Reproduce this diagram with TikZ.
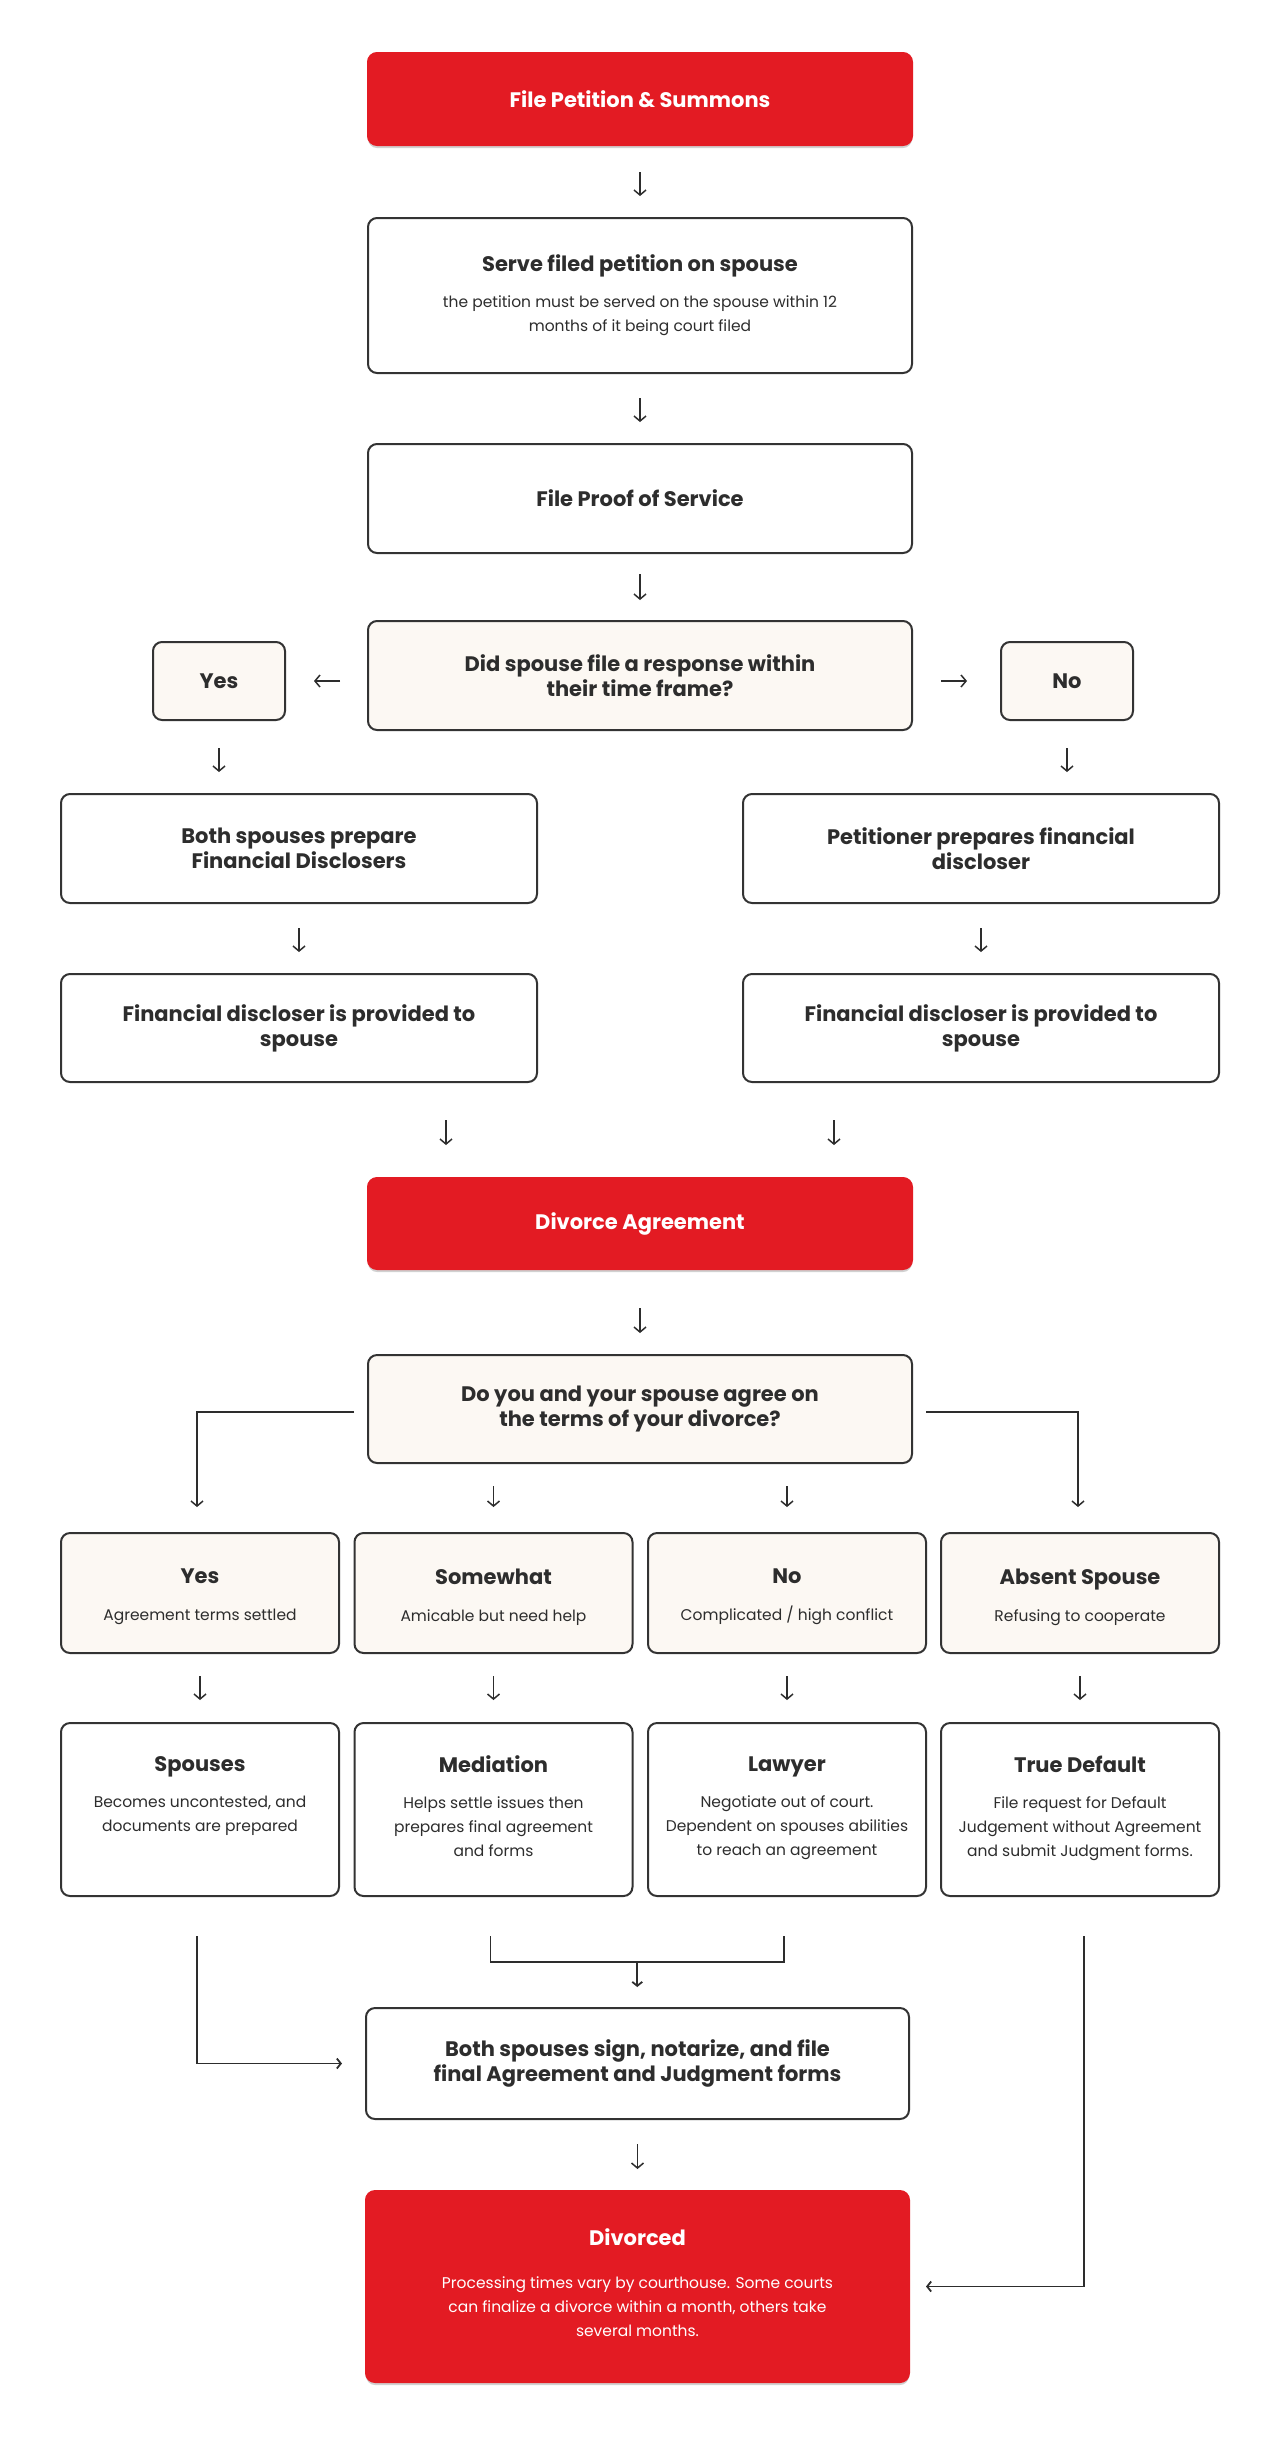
\documentclass[tikz,border=0pt]{standalone}
\usepackage{fontspec}
\setmainfont{Poppins}
\usetikzlibrary{arrows.meta,shadows,calc}
\definecolor{brandred}{HTML}{E31B23}
\definecolor{cream}{HTML}{FCF8F3}
\definecolor{ink}{HTML}{2D2D2D}
\definecolor{edge}{HTML}{333333}
\newcommand\ttl[1]{{\fontsize{21}{25}\selectfont\bfseries\spaceskip=0pt\xspaceskip=0pt #1\par}}
\newcommand\sbt[1]{{\fontsize{15.5}{24}\selectfont\mdseries\spaceskip=0pt\xspaceskip=0pt #1\strut\par}}
\newcommand\sbtn[1]{{\fontsize{15.5}{24}\selectfont\mdseries\spaceskip=0pt\xspaceskip=0pt #1\par}}
\tikzset{
  box/.style={draw=edge, line width=2pt, rounded corners=9pt, fill=white, text=ink,
    align=flush center, inner sep=0pt, font=\fontsize{21}{25}\selectfont\bfseries},
  qbox/.style={box, fill=cream},
  redbox/.style={box, draw=brandred, fill=brandred, text=white,
    drop shadow={shadow xshift=0pt, shadow yshift=-3pt, opacity=0.18, fill=black}},
  arr/.style={draw=ink, line width=1.5pt, -{Straight Barb[length=5pt,width=12pt]}},
  flow/.style={draw=ink, line width=1.8pt, -{Straight Barb[length=4pt,width=10pt]}},
  plain/.style={draw=ink, line width=1.8pt}
}
\begin{document}
\begin{tikzpicture}[x=1pt,y=-1pt]
\useasboundingbox (0,0) rectangle (1280,2439);
\fill[white] (0,0) rectangle (1280,2439);

% top chain
\node[redbox, minimum width=544pt, minimum height=92pt] (fps) at (640,99) {File Petition \& Summons};
\node[box, minimum width=544pt, minimum height=155pt, text width=504pt] (serve) at (640,295.5)
  {\ttl{Serve filed petition on spouse}\vspace{12pt}\sbtn{the petition must be served on the spouse within 12\\months of it being court filed}};
\node[box, minimum width=544pt, minimum height=109pt] (proof) at (640,498.5) {File Proof of Service};
\node[qbox, minimum width=544pt, minimum height=109pt] (dec1) at (640,675.5) {Did spouse file a response within\\their time frame?};
\node[qbox, minimum width=132pt, minimum height=78pt] (yes1) at (219,681) {Yes};
\node[qbox, minimum width=132pt, minimum height=78pt] (no1) at (1067,681) {No};
\node[box, minimum width=476pt, minimum height=109pt] (both) at (299,848.5) {Both spouses prepare\\Financial Disclosers};
\node[box, minimum width=476pt, minimum height=109pt] (pet) at (981,848.5) {Petitioner prepares financial\\discloser};
\node[box, minimum width=476pt, minimum height=108pt] (fd1) at (299,1028) {Financial discloser is provided to\\spouse};
\node[box, minimum width=476pt, minimum height=108pt] (fd2) at (981,1028) {Financial discloser is provided to\\spouse};
\node[redbox, minimum width=544pt, minimum height=91pt] (da) at (640,1223.5) {Divorce Agreement};
\node[qbox, minimum width=544pt, minimum height=108pt] (dec2) at (640,1409) {Do you and your spouse agree on\\the terms of your divorce?};

% options
\foreach \n/\x/\t/\s in {o1/200/Yes/{Agreement terms settled}, o2/493.5/Somewhat/{Amicable but need help},
    o3/787/No/{Complicated / high conflict}, o4/1080/Absent Spouse/{Refusing to cooperate}}{
  \node[qbox, minimum width=278pt, minimum height=120pt, text width=270pt] (\n) at (\x,1593)
    {\ttl{\t}\vspace{13pt}\sbtn{\s}\vspace{-8pt}};
}
\node[box, minimum width=278pt, minimum height=173pt, text width=270pt] (r1) at (200,1809.5)
  {\ttl{Spouses}\vspace{12pt}\sbt{Becomes uncontested, and\\documents are prepared\\\mbox{}}};
\node[box, minimum width=278pt, minimum height=173pt, text width=270pt] (r2) at (493.5,1809.5)
  {\ttl{Mediation}\vspace{12pt}\sbt{Helps settle issues then\\prepares final agreement\\and forms}};
\node[box, minimum width=278pt, minimum height=173pt, text width=270pt] (r3) at (787,1809.5)
  {\ttl{Lawyer}\vspace{12pt}\sbt{Negotiate out of court.\\Dependent on spouses abilities\\to reach an agreement}};
\node[box, minimum width=278pt, minimum height=173pt, text width=270pt] (r4) at (1080,1809.5)
  {\ttl{True Default}\vspace{12pt}\sbt{File request for Default\\Judgement without Agreement\\and submit Judgment forms.}};

\node[box, minimum width=543pt, minimum height=111pt] (fin) at (637.5,2063.5) {Both spouses sign, notarize, and file\\final Agreement and Judgment forms};
\node[redbox, minimum width=543pt, minimum height=191pt, text width=503pt] (div) at (637.5,2286.5)
  {\ttl{Divorced}\vspace{19pt}\sbt{Processing times vary by courthouse. Some courts\\can finalize a divorce within a month, others take\\several months.}};

% arrows top
\draw[arr, shorten <=26pt, shorten >=21pt] (fps) -- (serve);
\draw[arr, shorten <=24pt, shorten >=21pt] (serve) -- (proof);
\draw[arr, shorten <=20pt, shorten >=20pt] (proof) -- (dec1);
\draw[arr, shorten <=27pt, shorten >=28pt] (dec1.west |- yes1) -- (yes1.east);
\draw[arr, shorten <=28pt, shorten >=33pt] (dec1.east |- no1) -- (no1.west);
\draw[arr, shorten <=27pt, shorten >=21pt] (yes1.south) -- (yes1.south |- both.north);
\draw[arr, shorten <=27pt, shorten >=21pt] (no1.south) -- (no1.south |- pet.north);
\draw[arr, shorten <=24pt, shorten >=21pt] (both) -- (fd1);
\draw[arr, shorten <=24pt, shorten >=21pt] (pet) -- (fd2);
\draw[arr, shorten <=37pt, shorten >=32pt] ([xshift=147pt]fd1.south) -- ([xshift=147pt]fd1.south |- da.north);
\draw[arr, shorten <=37pt, shorten >=32pt] ([xshift=-147pt]fd2.south) -- ([xshift=-147pt]fd2.south |- da.north);
\draw[arr, shorten <=38pt, shorten >=21pt] (da) -- (dec2);

% branches from dec2
\draw[arr] ([xshift=-13pt,yshift=-3pt]dec2.west) -| ([xshift=-3pt,yshift=25pt]o1.north);
\draw[arr] ([xshift=13pt,yshift=-3pt]dec2.east) -| ([xshift=-2pt,yshift=25pt]o4.north);
\draw[arr, shorten <=22pt, shorten >=25pt] (o2.north |- dec2.south) -- (o2.north);
\draw[arr, shorten <=22pt, shorten >=25pt] (o3.north |- dec2.south) -- (o3.north);

% options to results
\foreach \i in {1,2,3,4}{
  \draw[arr, shorten <=22pt, shorten >=22pt] (o\i) -- (r\i);
}

% bottom flows
\coordinate (r2b) at ([xshift=-3pt,yshift=-39pt]r2.south);
\coordinate (r3b) at ([xshift=-3pt,yshift=-39pt]r3.south);
\coordinate (mj) at ($(r2b)!0.5!(r3b)+(0,26)$);
\draw[flow, shorten >=23pt] ([xshift=-3pt,yshift=-39pt]r1.south) |- (fin.west);
\draw[plain] (r2b) |- (mj) -| (r3b);
\draw[flow, shorten >=20pt] (mj) -- (fin.north -| mj);
\draw[flow, shorten >=16pt] ([xshift=4pt,yshift=-39pt]r4.south) |- (div.east);
\draw[arr, shorten <=24pt, shorten >=21pt] (fin) -- (div);
\end{tikzpicture}
\end{document}
